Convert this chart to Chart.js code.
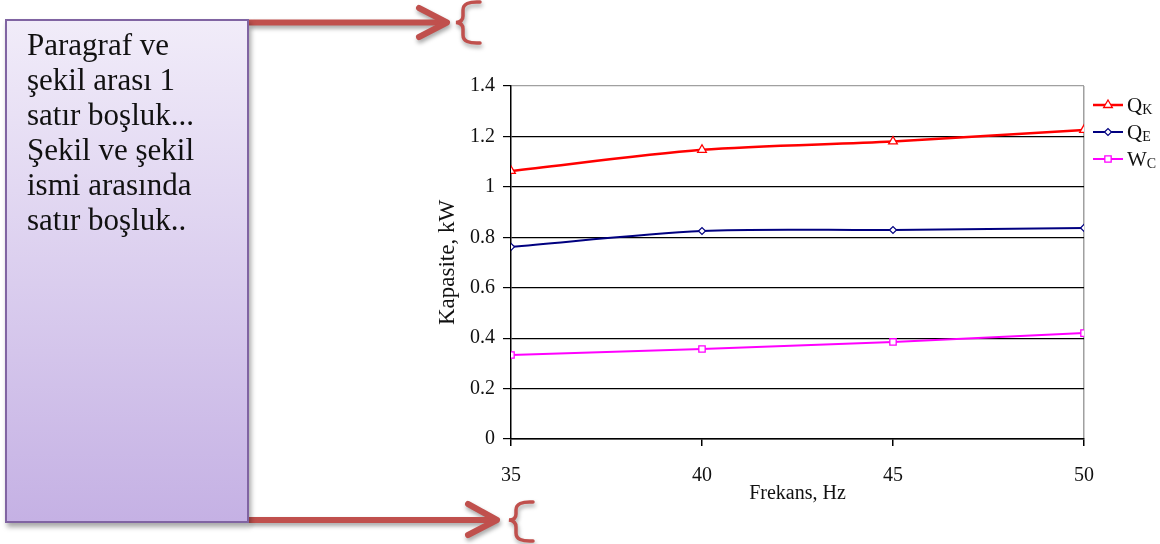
<!DOCTYPE html>
<html>
<head>
<meta charset="utf-8">
<script src="https://cdn.jsdelivr.net/npm/chart.js@4/dist/chart.umd.min.js"></script>
<style>
  html, body { margin: 0; padding: 0; background: #fff; }
  #wrap { position: relative; width: 1160px; height: 544px; overflow: hidden; }
  #chart { position: absolute; left: 0; top: 0; }
  #arrows { position: absolute; left: 0; top: 0; filter: drop-shadow(1px 3px 2px rgba(0,0,0,0.35)); }
  #note {
    position: absolute; left: 5px; top: 19px; width: 244px; height: 504px;
    box-sizing: border-box; border: 2px solid #8064a2;
    background: linear-gradient(to bottom, #f1ecf9, #c5b1e4);
    box-shadow: 2px 4px 5px rgba(0,0,0,0.35);
    padding: 6px 0 0 20px;
    font: 31px/35px "Liberation Serif", serif; color: #111;
  }
</style>
</head>
<body>
<div id="wrap">
  <canvas id="chart" width="1160" height="544"></canvas>
  <svg id="arrows" width="1160" height="544">
    <g stroke="#c0504d" fill="none">
      <line x1="249" y1="22.5" x2="444" y2="22.5" stroke-width="6"/>
      <polyline points="419,8 447,22.5 419,37" stroke-width="6" stroke-linecap="round" stroke-linejoin="round"/>
      <path d="M480,2 Q463,1 463,10 L463,16 Q463,22 456,22.5 Q463,23 463,29 L463,35 Q463,44 480,43" stroke-width="3.5" stroke-linecap="round"/>
      <line x1="249" y1="520" x2="494" y2="520" stroke-width="6"/>
      <polyline points="468,504 497,520 468,535" stroke-width="6" stroke-linecap="round" stroke-linejoin="round"/>
      <path d="M533,502 Q516,501 516,510 L516,514 Q516,520 509,520 Q516,521 516,527 L516,533 Q516,542 533,541" stroke-width="3.5" stroke-linecap="round"/>
    </g>
  </svg>
  <div id="note">Paragraf ve<br>şekil arası 1<br>satır boşluk...<br>Şekil ve şekil<br>ismi arasında<br>satır boşluk..</div>
</div>
<script>
'use strict'
// frequency (Hz) on x, capacity (kW) on y
var freqHz = [35, 40, 45, 50];
var qK = [1.063, 1.147, 1.180, 1.226];
var qE = [0.762, 0.825, 0.829, 0.837];
var wC = [0.333, 0.357, 0.385, 0.420];
var seriesNames = ['Q', 'Q', 'W'];
var seriesSubs = ['K', 'E', 'C'];
var yTickStep = 0.2;
var xTickStep = 5;

function toPoints(values) {
    return freqHz.map(function (f, i) { return { x: f, y: values[i] }; });
}

Chart.defaults.font.family = '"Liberation Serif", "Times New Roman", serif';
Chart.defaults.color = '#111';

/* legend on the right with subscripts */
var sideLegend = {
    id: 'sideLegend',
    afterDraw: function (chart) {
        var ctx = chart.ctx;
        chart.data.datasets.forEach(function (ds, i) {
            var y = 105 + i * 27;
            ctx.save();
            ctx.strokeStyle = ds.borderColor;
            ctx.lineWidth = ds.borderWidth;
            ctx.beginPath();
            ctx.moveTo(1093, y);
            ctx.lineTo(1123, y);
            ctx.stroke();
            ctx.fillStyle = '#fff';
            ctx.lineWidth = ds.pointBorderWidth;
            Chart.helpers.drawPoint(ctx, { pointStyle: ds.pointStyle, radius: ds.pointRadius, rotation: 0, borderWidth: ds.pointBorderWidth }, 1108, y);
            ctx.fillStyle = '#111';
            ctx.textBaseline = 'alphabetic';
            ctx.font = '21px "Liberation Serif", serif';
            ctx.fillText(seriesNames[i], 1127, y + 7);
            var w = ctx.measureText(seriesNames[i]).width;
            ctx.font = '14px "Liberation Serif", serif';
            ctx.fillText(seriesSubs[i], 1127 + w, y + 9);
            ctx.restore();
        });
    }
};

var ctxCapacity = document.getElementById('chart').getContext('2d');
var capacityChart = new Chart(ctxCapacity, {
    type: 'line',
    data: {
        datasets: [{
            label: 'QK',
            data: toPoints(qK),
            borderColor: '#ff0000',
            borderWidth: 2.5,
            pointStyle: 'triangle',
            pointRadius: 5,
            pointBorderWidth: 1.3,
            pointBackgroundColor: '#fff',
            pointBorderColor: '#ff0000',
            tension: 0.3
        }, {
            label: 'QE',
            data: toPoints(qE),
            borderColor: '#000080',
            borderWidth: 2,
            pointStyle: 'rectRot',
            pointRadius: 3.5,
            pointBorderWidth: 1.2,
            pointBackgroundColor: '#fff',
            pointBorderColor: '#000080',
            tension: 0.3
        }, {
            label: 'WC',
            data: toPoints(wC),
            borderColor: '#ff00ff',
            borderWidth: 2,
            pointStyle: 'rect',
            pointRadius: 4.5,
            pointBorderWidth: 1.3,
            pointBackgroundColor: '#fff',
            pointBorderColor: '#ff00ff',
            tension: 0.3
        }]
    },
    options: {
        responsive: false,
        animation: false,
        devicePixelRatio: 1,
        layout: { padding: { left: 430, right: 76, top: 86, bottom: 38 } },
        plugins: {
            legend: { display: false },
            tooltip: { enabled: false }
        },
        scales: {
            x: {
                type: 'linear',
                min: freqHz[0],
                max: freqHz[freqHz.length - 1],
                ticks: { stepSize: xTickStep, padding: 18, font: { size: 20 }, color: '#111' },
                grid: {
                    color: function (c) { return c.tick && c.tick.value === 50 ? '#a0a0a0' : 'rgba(0,0,0,0)'; },
                    tickColor: '#000',
                    tickLength: 7,
                    lineWidth: 1.5
                },
                border: { color: '#000', width: 1.5 },
                title: { display: true, text: 'Frekans, Hz', font: { size: 20 }, color: '#111', padding: { top: 0, bottom: 0 } },
                afterFit: function (scale) { scale.height = 67; }
            },
            y: {
                min: 0,
                max: 1.4,
                ticks: {
                    stepSize: yTickStep, padding: 8, font: { size: 20 }, color: '#111',
                    callback: function (v) { return String(Number(v.toFixed(1))); }
                },
                grid: {
                    color: function (c) { return c.tick && c.tick.value === 1.4 ? '#a0a0a0' : '#000'; },
                    tickColor: '#000',
                    tickLength: 8,
                    lineWidth: 1.2
                },
                border: { color: '#000', width: 1.5 },
                title: { display: true, text: 'Kapasite, kW', font: { size: 23 }, color: '#111', padding: { top: 4, bottom: 0 } },
                afterFit: function (scale) { scale.width = 81; }
            }
        }
    },
    plugins: [sideLegend]
});
</script>
</body>
</html>
